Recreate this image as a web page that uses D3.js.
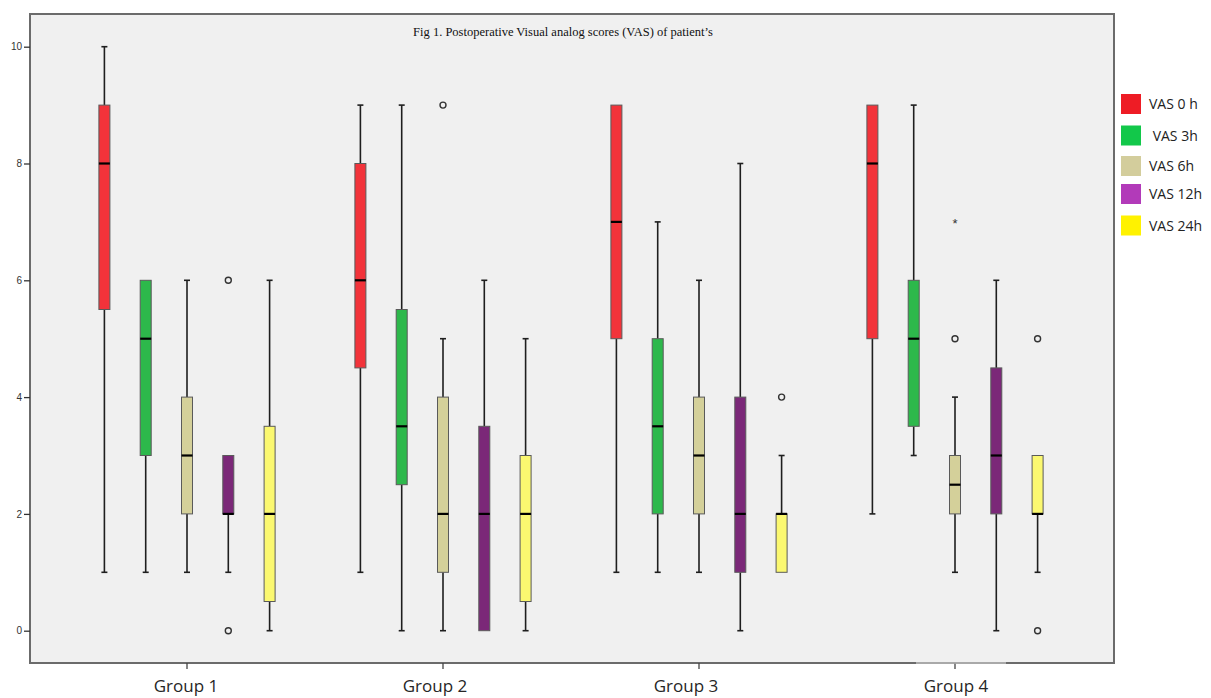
<!DOCTYPE html>
<html>
<head>
<meta charset="utf-8">
<script src="https://cdn.jsdelivr.net/npm/d3@7"></script>
<style>
  html, body { margin: 0; padding: 0; background: #ffffff; }
  svg { display: block; }
</style>
</head>
<body>
<svg id="chart" width="1211" height="698"></svg>
<script>
// ---------------- DATA ----------------
const groups = ["Group 1", "Group 2", "Group 3", "Group 4"];
const seriesNames = ["VAS 0 h", " VAS 3h", "VAS 6h", "VAS 12h", "VAS 24h"];
const yTicks = [0, 2, 4, 6, 8, 10];
const title = "Fig 1. Postoperative Visual analog scores (VAS) of patient\u2019s";

// each entry per group: [whisker low, Q1, median, Q3, whisker high]
const vas0h  = [[1, 5.5, 8, 9, 10], [1, 4.5, 6, 8, 9], [1, 5, 7, 9, 9], [2, 5, 8, 9, 9]];
const vas3h  = [[1, 3, 5, 6, 6], [0, 2.5, 3.5, 5.5, 9], [1, 2, 3.5, 5, 7], [3, 3.5, 5, 6, 9]];
const vas6h  = [[1, 2, 3, 4, 6], [0, 1, 2, 4, 5], [1, 2, 3, 4, 6], [1, 2, 2.5, 3, 4]];
const vas12h = [[1, 2, 2, 3, 3], [0, 0, 2, 3.5, 6], [0, 1, 2, 4, 8], [0, 2, 3, 4.5, 6]];
const vas24h = [[0, 0.5, 2, 3.5, 6], [0, 0.5, 2, 3, 5], [1, 1, 2, 2, 3], [1, 2, 2, 3, 3]];

// outliers (circles)
const outlierGroup  = [0, 0, 1, 2, 3, 3, 3];
const outlierSeries = [3, 3, 2, 4, 2, 4, 4];
const outlierValue  = [6, 0, 9, 4, 5, 5, 0];
// extremes (stars)
const extremeGroup  = [3];
const extremeSeries = [2];
const extremeValue  = [7];

// ---------------- STYLE ----------------
const boxColors    = ["#F2333A", "#2DB84B", "#D4D09A", "#7B2878", "#FBF870"];
const legendColors = ["#EE1C25", "#12C84A", "#D3CD9C", "#B23AB9", "#FFF200"];

// ---------------- LAYOUT ----------------
const svg = d3.select("#chart");
const frame = { left: 30, top: 14, right: 1114, bottom: 663 };

const x = d3.scaleBand().domain(groups).range([59, 1083]).padding(0);
const inner = d3.scaleBand().domain(d3.range(5)).range([-103.25, 103.25]).padding(0);
const y = d3.scaleLinear().domain([0, 10]).range([630.7, 46.7]);

const boxW = 11, capW = 6;

// background frame
svg.append("rect")
  .attr("x", frame.left).attr("y", frame.top)
  .attr("width", frame.right - frame.left).attr("height", frame.bottom - frame.top)
  .attr("fill", "#F0F0F0").attr("stroke", "#6b6b6b").attr("stroke-width", 2);

// title
svg.append("text")
  .attr("x", 563).attr("y", 36)
  .attr("text-anchor", "middle")
  .attr("font-family", "'Liberation Serif', 'Times New Roman', serif")
  .attr("font-size", 12.5)
  .attr("fill", "#111")
  .text(title);

// y axis
const yAxis = d3.axisLeft(y).tickValues(yTicks).tickSize(6).tickPadding(2).tickFormat(d3.format("d"));
const gy = svg.append("g").attr("transform", `translate(${frame.left},0)`).call(yAxis);
gy.select(".domain").remove();
gy.selectAll(".tick line").attr("stroke", "#333").attr("stroke-width", 1.3);
gy.selectAll(".tick text")
  .attr("font-family", "'Liberation Sans', Arial, sans-serif")
  .attr("font-size", 10).attr("fill", "#333");

// x axis ticks
const xAxis = d3.axisBottom(x).tickSize(6).tickFormat("");
const gx = svg.append("g").attr("transform", `translate(0,${frame.bottom})`).call(xAxis);
gx.select(".domain").remove();
gx.selectAll(".tick line").attr("stroke", "#444").attr("stroke-width", 1.3);

// lighter patch on the bottom frame under group 4
svg.append("line")
  .attr("x1", x("Group 4") + x.bandwidth() / 2 - 39).attr("x2", x("Group 4") + x.bandwidth() / 2 + 51)
  .attr("y1", frame.bottom).attr("y2", frame.bottom)
  .attr("stroke", "#e8e8e8").attr("stroke-width", 1.2);

// group labels
const labelShift = [-1, -8, -13, 1];
svg.append("g").selectAll("text").data(groups).join("text")
  .attr("x", (d, i) => x(d) + x.bandwidth() / 2 + labelShift[i])
  .attr("y", 692)
  .attr("text-anchor", "middle")
  .attr("font-family", "'Open Sans', 'Noto Sans', sans-serif")
  .attr("font-size", 17)
  .attr("fill", "#262626")
  .text(d => d);

// box data
const allSeries = [vas0h, vas3h, vas6h, vas12h, vas24h];
const boxes = [];
allSeries.forEach((s, si) => s.forEach((v, gi) => boxes.push({ si, gi, v })));
const cx = d => x(groups[d.gi]) + x.bandwidth() / 2 + inner(d.si) + inner.bandwidth() / 2;

const gBox = svg.append("g");
// whiskers
gBox.selectAll(".wl").data(boxes).join("line")
  .attr("x1", cx).attr("x2", cx)
  .attr("y1", d => y(d.v[0])).attr("y2", d => y(d.v[1]))
  .attr("stroke", "#1e1e1e").attr("stroke-width", 1.6);
gBox.selectAll(".wh").data(boxes).join("line")
  .attr("x1", cx).attr("x2", cx)
  .attr("y1", d => y(d.v[3])).attr("y2", d => y(d.v[4]))
  .attr("stroke", "#1e1e1e").attr("stroke-width", 1.6);
// caps
gBox.selectAll(".cl").data(boxes.filter(d => d.v[0] < d.v[1])).join("line")
  .attr("x1", d => cx(d) - capW / 2).attr("x2", d => cx(d) + capW / 2)
  .attr("y1", d => y(d.v[0])).attr("y2", d => y(d.v[0]))
  .attr("stroke", "#1e1e1e").attr("stroke-width", 1.6);
gBox.selectAll(".ch").data(boxes.filter(d => d.v[4] > d.v[3])).join("line")
  .attr("x1", d => cx(d) - capW / 2).attr("x2", d => cx(d) + capW / 2)
  .attr("y1", d => y(d.v[4])).attr("y2", d => y(d.v[4]))
  .attr("stroke", "#1e1e1e").attr("stroke-width", 1.6);
// boxes
gBox.selectAll(".bx").data(boxes).join("rect")
  .attr("x", d => cx(d) - boxW / 2).attr("width", boxW)
  .attr("y", d => y(d.v[3])).attr("height", d => Math.max(0, y(d.v[1]) - y(d.v[3])))
  .attr("fill", d => boxColors[d.si])
  .attr("stroke", "#5a5a5a").attr("stroke-width", 1);
// medians
gBox.selectAll(".md").data(boxes).join("line")
  .attr("x1", d => cx(d) - boxW / 2).attr("x2", d => cx(d) + boxW / 2)
  .attr("y1", d => y(d.v[2])).attr("y2", d => y(d.v[2]))
  .attr("stroke", "#000").attr("stroke-width", 2.2);

// outliers
const outliers = outlierValue.map((v, i) => ({ gi: outlierGroup[i], si: outlierSeries[i], v }));
gBox.selectAll(".ol").data(outliers).join("circle")
  .attr("cx", cx).attr("cy", d => y(d.v)).attr("r", 3)
  .attr("fill", "none").attr("stroke", "#333").attr("stroke-width", 1.4);

// extremes
const extremes = extremeValue.map((v, i) => ({ gi: extremeGroup[i], si: extremeSeries[i], v }));
gBox.selectAll(".ex").data(extremes).join("text")
  .attr("x", cx).attr("y", d => y(d.v) + 6)
  .attr("text-anchor", "middle")
  .attr("font-family", "'Liberation Sans', Arial, sans-serif")
  .attr("font-size", 13).attr("fill", "#333")
  .text("*");

// legend
const legY = [104, 135.5, 166, 194, 225.5];
const leg = svg.append("g");
leg.selectAll("rect").data(seriesNames).join("rect")
  .attr("x", 1121).attr("y", (d, i) => legY[i] - 10)
  .attr("width", 20).attr("height", 20)
  .attr("fill", (d, i) => legendColors[i]);
leg.selectAll("text").data(seriesNames).join("text")
  .attr("x", 1149).attr("y", (d, i) => legY[i] + 5)
  .attr("font-family", "'Open Sans', 'Noto Sans', sans-serif")
  .attr("font-size", 14).attr("fill", "#222")
  .style("white-space", "pre")
  .text(d => d);
</script>
</body>
</html>
